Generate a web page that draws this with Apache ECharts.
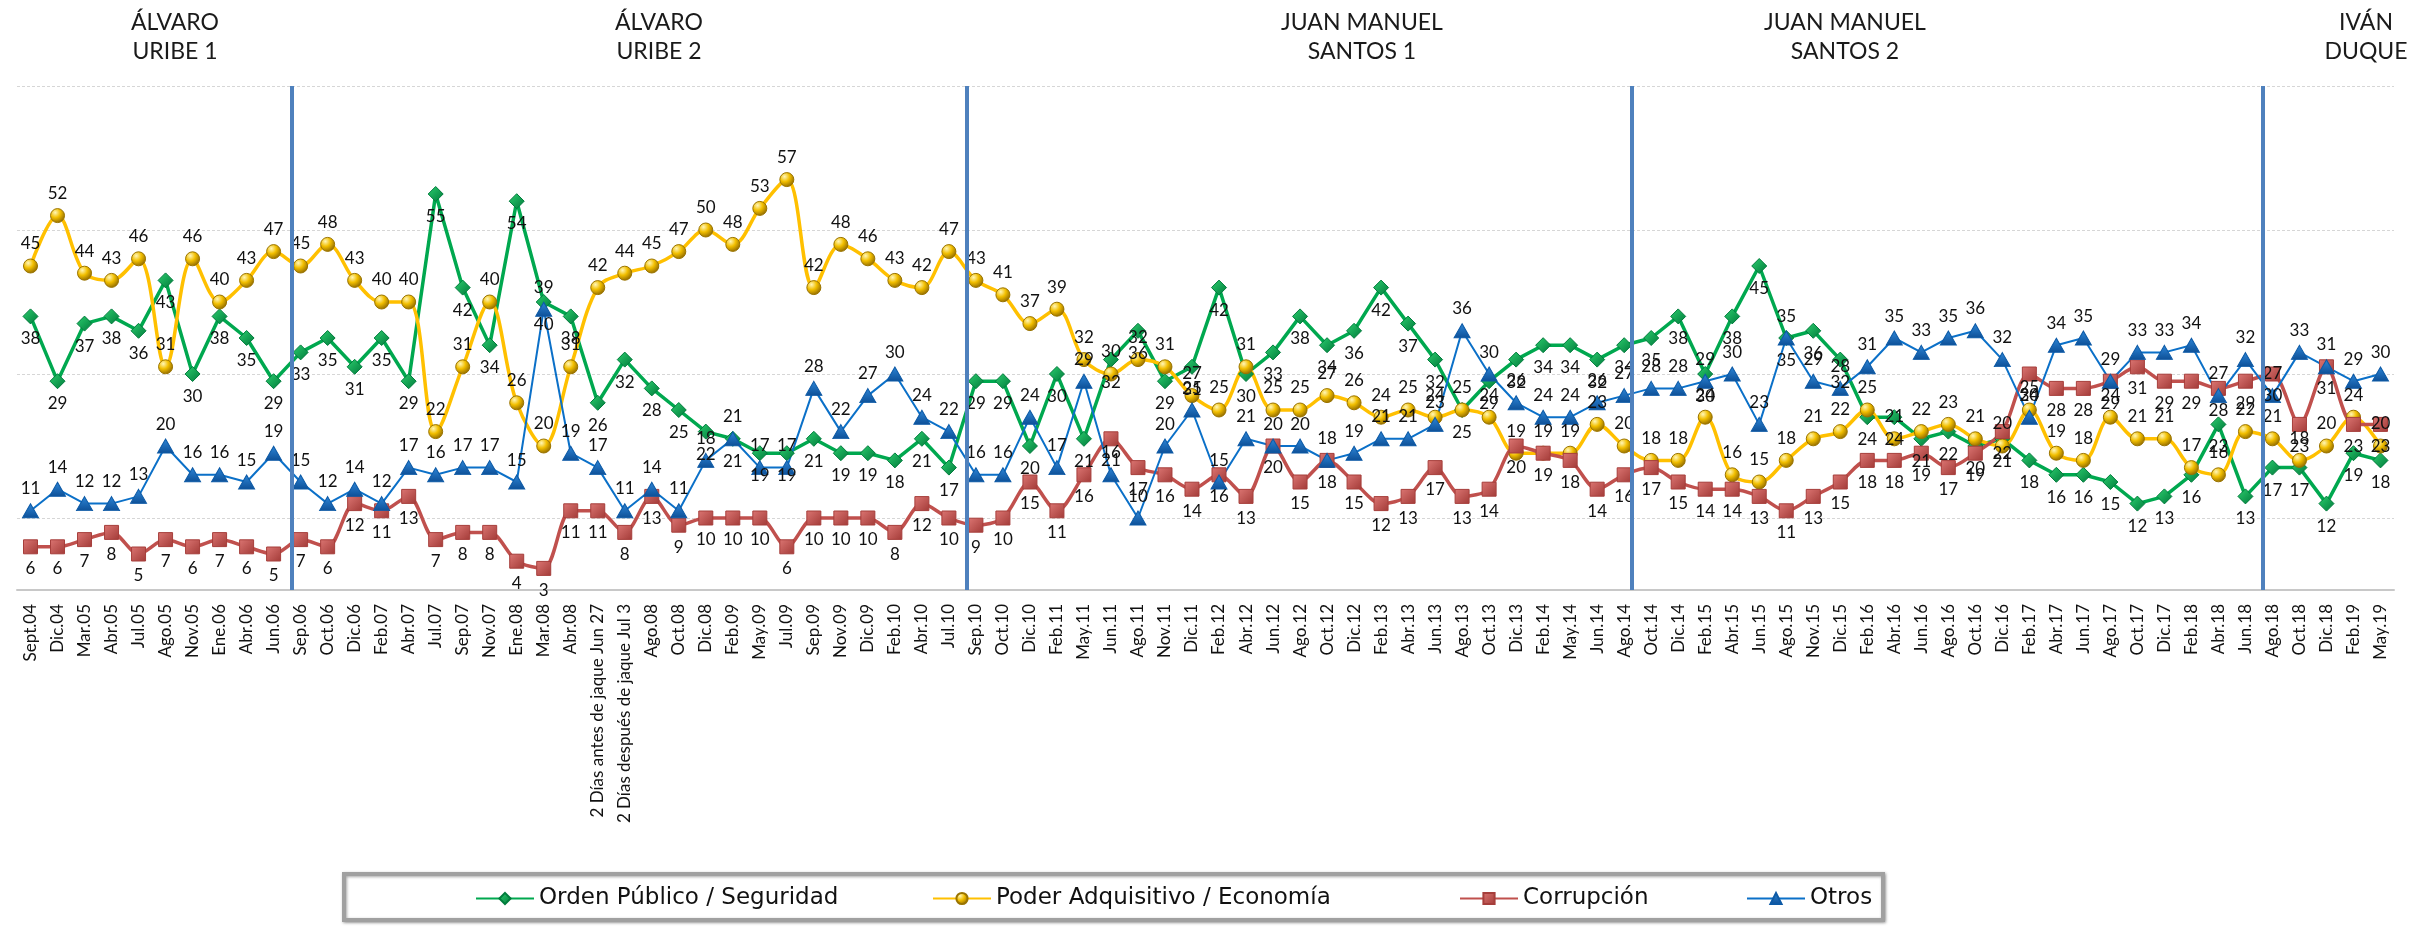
<!DOCTYPE html>
<html>
<head>
<meta charset="UTF-8">
<title>Principal problema del país</title>
<style>
body { padding:0; border:0; margin:0; background:#fff; }
</style>
<script src="https://cdn.jsdelivr.net/npm/echarts@6/dist/echarts.min.js"></script>
</head>
<body>
<div id="main" style="width:2430px;height:927px;"></div>
<script>
// categorías del eje X (fechas de medición)
var meses = ['Sept.04','Dic.04','Mar.05','Abr.05','Jul.05','Ago.05','Nov.05','Ene.06','Abr.06','Jun.06',
  'Sep.06','Oct.06','Dic.06','Feb.07','Abr.07','Jul.07','Sep.07','Nov.07','Ene.08','Mar.08',
  'Abr.08','2 Días antes de jaque Jun 27','2 Días después de jaque Jul 3','Ago.08','Oct.08','Dic.08','Feb.09','May.09','Jul.09','Sep.09',
  'Nov.09','Dic.09','Feb.10','Abr.10','Jul.10','Sep.10','Oct.10','Dic.10','Feb.11','May.11',
  'Jun.11','Ago.11','Nov.11','Dic.11','Feb.12','Abr.12','Jun.12','Ago.12','Oct.12','Dic.12',
  'Feb.13','Abr.13','Jun.13','Ago.13','Oct.13','Dic.13','Feb.14','May.14','Jun.14','Ago.14',
  'Oct.14','Dic.14','Feb.15','Abr.15','Jun.15','Ago.15','Nov.15','Dic.15','Feb.16','Abr.16',
  'Jun.16','Ago.16','Oct.16','Dic.16','Feb.17','Abr.17','Jun.17','Ago.17','Oct.17','Dic.17',
  'Feb.18','Abr.18','Jun.18','Ago.18','Oct.18','Dic.18','Feb.19','May.19'];

var ordenPublico = [38,29,37,38,36,43,30,38,35,29, 33,35,31,35,29,55,42,34,54,40,
  38,26,32,28,25,22,21,19,19,21, 19,19,18,21,17,29,29,20,30,21,
  32,36,29,31,42,30,33,38,34,36, 42,37,32,25,29,32,34,34,32,34,
  35,38,30,38,45,35,36,32,24,24, 21,22,20,21,18,16,16,15,12,13,
  16,23,13,17,17,12,19,18];

var poderAdquisitivo = [45,52,44,43,46,31,46,40,43,47, 45,48,43,40,40,22,31,40,26,20,
  31,42,44,45,47,50,48,53,57,42, 48,46,43,42,47,43,41,37,39,32,
  30,32,31,27,25,31,25,25,27,26, 24,25,24,25,24,19,19,19,23,20,
  18,18,24,16,15,18,21,22,25,21, 22,23,21,20,25,19,18,24,21,21,
  17,16,22,21,18,20,24,20];

var corrupcion = [6,6,7,8,5,7,6,7,6,5, 7,6,12,11,13,7,8,8,4,3,
  11,11,8,13,9,10,10,10,6,10, 10,10,8,12,10,9,10,15,11,16,
  21,17,16,14,16,13,20,15,18,15, 12,13,17,13,14,20,19,18,14,16,
  17,15,14,14,13,11,13,15,18,18, 19,17,19,22,30,28,28,29,31,29,
  29,28,29,30,23,31,23,23];

var otros = [11,14,12,12,13,20,16,16,15,19, 15,12,14,12,17,16,17,17,15,39,
  19,17,11,14,11,18,21,17,17,28, 22,27,30,24,22,16,16,24,17,29,
  16,10,20,25,15,21,20,20,18,19, 21,21,23,36,30,26,24,24,26,27,
  28,28,29,30,23,35,29,28,31,35, 33,35,36,32,24,34,35,29,33,33,
  34,27,32,27,33,31,29,30];

// periodos presidenciales (encabezados) y cortes entre ellos (en unidades de categoría)
var periodos = ['ÁLVARO\nURIBE 1','ÁLVARO\nURIBE 2','JUAN MANUEL\nSANTOS 1','JUAN MANUEL\nSANTOS 2','IVÁN\nDUQUE'];
var cortes = [10.18, 35.17, 59.79, 83.15];

var nombres = ['Orden Público / Seguridad','Poder Adquisitivo / Economía','Corrupción','Otros'];

var chart = echarts.init(document.getElementById('main'));
var fuente = 'Lato';
var etiqueta = { show: true, fontSize: 17, fontFamily: fuente, color: '#111', distance: 6 };

// encabezados de cada gobierno
var encabezadoX = [175, 659, 1362, 1845, 2366];
var graficos = periodos.map(function (t, i) {
  return {
    type: 'text', x: encabezadoX[i], y: 8,
    style: { text: t, textAlign: 'center', font: '23px Lato', lineHeight: 29, fill: '#1a1a1a' }
  };
});
// marco de la leyenda
graficos.push({
  type: 'rect', shape: { x: 344, y: 874, width: 1539, height: 46 }, z: 0,
  style: { fill: '#fff', stroke: '#a0a0a0', lineWidth: 4, shadowBlur: 3, shadowColor: 'rgba(0,0,0,0.35)', shadowOffsetX: 1, shadowOffsetY: 1 }
});

var leyendaX = [470, 927, 1454, 1741];
var leyendas = nombres.map(function (n, i) {
  return {
    data: [n], left: leyendaX[i], top: 882,
    itemWidth: 58, itemHeight: 14, itemGap: 0,
    textStyle: { fontSize: 23, fontFamily: 'DejaVu Sans', color: '#111' },
    z: 10
  };
});

var option = {
  animation: false,
  backgroundColor: '#fff',
  grid: { left: 17, right: 36, top: 86, bottom: 337 },
  graphic: graficos,
  legend: leyendas,
  xAxis: [{
    type: 'category', data: meses, boundaryGap: true,
    axisTick: { show: false },
    axisLine: { lineStyle: { color: '#c8c8c8', width: 2 } },
    axisLabel: { interval: 0, rotate: 90, fontSize: 17, fontFamily: fuente, color: '#111', margin: 14 }
  }, {
    type: 'value', min: 0, max: meses.length, show: false
  }],
  yAxis: {
    type: 'value', min: 0, max: 70, interval: 10,
    axisLabel: { show: false }, axisLine: { show: false }, axisTick: { show: false },
    splitLine: { lineStyle: { color: ['transparent', '#d6d6d6'], type: [3, 2] } }
  },
  series: [
    {
      name: nombres[0], type: 'line', data: ordenPublico,
      symbol: 'diamond', symbolSize: 15,
      lineStyle: { color: '#00a84f', width: 3.5 },
      itemStyle: { color: new echarts.graphic.LinearGradient(0, 0, 1, 1, [
        { offset: 0, color: '#2ccf6f' }, { offset: 1, color: '#00793a' }]), borderColor: '#007c3c', borderWidth: 1 },
      label: Object.assign({ position: 'bottom' }, etiqueta), z: 3
    },
    {
      name: nombres[1], type: 'line', data: poderAdquisitivo, smooth: 0.35,
      symbol: 'circle', symbolSize: 14,
      lineStyle: { color: '#ffc000', width: 3.5 },
      itemStyle: { color: new echarts.graphic.RadialGradient(0.35, 0.3, 0.75, [
        { offset: 0, color: '#fff6b8' }, { offset: 0.45, color: '#f2bf00' }, { offset: 1, color: '#8a6400' }]),
        borderColor: '#9a7400', borderWidth: 1 },
      label: Object.assign({ position: 'top' }, etiqueta), z: 3
    },
    {
      name: nombres[2], type: 'line', data: corrupcion, smooth: 0.3,
      symbol: 'rect', symbolSize: 14,
      lineStyle: { color: '#c0504d', width: 3.5 },
      itemStyle: { color: new echarts.graphic.LinearGradient(0, 0, 1, 1, [
        { offset: 0, color: '#dc7673' }, { offset: 1, color: '#a23a37' }]), borderColor: '#a63e3b', borderWidth: 1 },
      label: Object.assign({ position: 'bottom' }, etiqueta), z: 3
    },
    {
      name: nombres[3], type: 'line', data: otros,
      symbol: 'triangle', symbolSize: [16, 14],
      lineStyle: { color: '#0b70c8', width: 2 },
      itemStyle: { color: new echarts.graphic.LinearGradient(0, 0, 0, 1, [
        { offset: 0, color: '#2d86d8' }, { offset: 1, color: '#0d4f96' }]), borderColor: '#0d5aa6', borderWidth: 1 },
      label: Object.assign({ position: 'top' }, etiqueta), z: 3
    },
    {
      name: 'cortes', type: 'line', xAxisIndex: 1, data: [], silent: true,
      markLine: {
        symbol: 'none', silent: true, label: { show: false },
        lineStyle: { color: '#4f81bd', width: 4, type: 'solid' },
        data: cortes.map(function (c) { return { xAxis: c }; })
      },
      z: 2
    }
  ]
};

chart.setOption(option);
</script>
</body>
</html>
